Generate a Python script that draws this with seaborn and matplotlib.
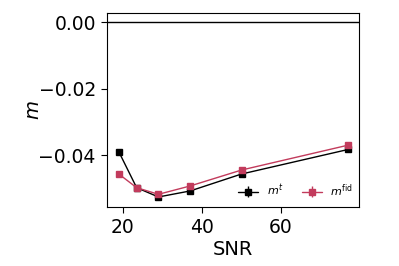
import matplotlib
matplotlib.use("Agg")
import matplotlib.pyplot as plt
import seaborn as sns

# data
snr = [19, 23.5, 29, 37, 50, 77]
m_t = [-0.0390, -0.0498, -0.0526, -0.0508, -0.0457, -0.0383]
m_fid = [-0.0457, -0.0498, -0.0518, -0.0493, -0.0445, -0.0370]
err_t = [0.0002, 0.0002, 0.0002, 0.0002, 0.0002, 0.0002]
err_fid = [0.0002, 0.0002, 0.0002, 0.0002, 0.0002, 0.0002]

sns.set_style("ticks")
plt.rcParams['font.family'] = ['DejaVu Sans']
plt.rcParams['text.color'] = 'black'
plt.rcParams['axes.labelcolor'] = 'black'
plt.rcParams['xtick.color'] = 'black'
plt.rcParams['ytick.color'] = 'black'
plt.rcParams['axes.edgecolor'] = 'black'

fig = plt.figure(figsize=(3.99, 2.66), dpi=100)
ax = fig.add_axes([0.268, 0.222, 0.632, 0.729])

red = '#c23b5c'
ax.axhline(0, color='black', lw=1)
ax.errorbar(snr, m_t, yerr=err_t, color='black', marker='s', ms=4, lw=1,
            label=r'$m^{t}$')
ax.errorbar(snr, m_fid, yerr=err_fid, color=red, marker='s', ms=4, lw=1,
            label=r'$m^{\rm fid}$')

ax.set_xlim(16, 79.7)
ax.set_ylim(-0.0556, 0.0027)
ax.set_xticks([20, 40, 60])
ax.set_yticks([0.0, -0.02, -0.04])
ax.tick_params(labelsize=13.5, length=4, width=0.8, pad=4)
ax.set_xlabel('SNR', fontsize=14, labelpad=2)
ax.set_ylabel(r'$m$', fontsize=14, labelpad=-3)
for s in ax.spines.values():
    s.set_linewidth(0.8)

ax.legend(loc='lower right', frameon=False, fontsize=8, ncol=2,
          columnspacing=1.6, handlelength=1.8, bbox_to_anchor=(1.015, -0.01))

fig.savefig('out.png', dpi=100)
